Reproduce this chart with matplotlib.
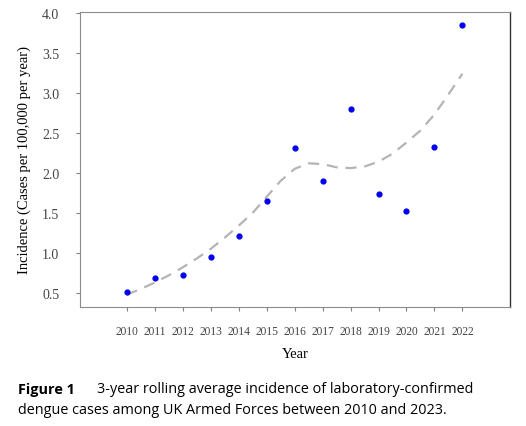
import matplotlib
matplotlib.use("Agg")
import matplotlib.pyplot as plt

# yearly incidence (cases per 100,000 per year)
years = [2010, 2011, 2012, 2013, 2014, 2015, 2016, 2017, 2018, 2019, 2020, 2021, 2022]
incidence = [0.51, 0.69, 0.72, 0.95, 1.21, 1.65, 2.31, 1.90, 2.80, 1.74, 1.52, 2.32, 3.85]

# smoothed trend, read every half year
trend_x = [2010, 2010.5, 2011, 2011.5, 2012, 2012.5, 2013, 2013.5, 2014, 2014.5, 2015,
           2015.5, 2016, 2016.5, 2017, 2017.5, 2018, 2018.5, 2019, 2019.5, 2020,
           2020.5, 2021, 2021.5, 2022]
trend_y = [0.48, 0.55, 0.63, 0.72, 0.82, 0.93, 1.05, 1.19, 1.34, 1.50, 1.70,
           1.90, 2.05, 2.12, 2.11, 2.07, 2.06, 2.08, 2.14, 2.24, 2.38,
           2.53, 2.73, 2.98, 3.24]

yticks = [0.5, 1.0, 1.5, 2.0, 2.5, 3.0, 3.5, 4.0]

serif = "Liberation Serif"
sans = "Open Sans"

fig = plt.figure(figsize=(5.26, 4.27), dpi=100)
ax = fig.add_axes([80/526, 1-308/427, 430/526, 295/427])

ax.plot(trend_x, trend_y, color="#b4b4b4", lw=1.6, dashes=(5, 3.5), zorder=1)
ax.scatter(years, incidence, s=12, color="#0000ee", zorder=2)

ax.set_xlim(2008.33, 2023.7)
ax.set_ylim(0.325, 4.01)
ax.set_xticks(years)
ax.set_xticklabels([str(y) for y in years], fontfamily=serif, fontsize=8.3, color="#444444")
ax.set_yticks(yticks)
ax.set_yticklabels(["%.1f" % v for v in yticks], fontfamily=serif, fontsize=10, color="#444444")
ax.tick_params(axis="x", direction="out", length=3, color="#808080", pad=10)
ax.tick_params(axis="y", direction="out", length=3, color="#808080", pad=12)

for side in ["left", "bottom", "top"]:
    ax.spines[side].set_color("#8c8c8c")
ax.spines["right"].set_color("#333333")
ax.spines["right"].set_linewidth(1.0)

ax.set_ylabel("Incidence (Cases per 100,000 per year)", fontfamily=serif, fontsize=10.5, labelpad=8)
fig.text(295/526, 1-354/427, "Year", fontfamily=serif, fontsize=10.5, ha="center", va="center")

fig.text(18/526, 1-390/427, "Figure 1", fontfamily=sans, fontsize=10.4, fontweight="bold",
         ha="left", va="center")
fig.text(97/526, 1-390/427, "3-year rolling average incidence of laboratory-confirmed",
         fontfamily=sans, fontsize=10.4, ha="left", va="center")
fig.text(18/526, 1-411/427, "dengue cases among UK Armed Forces between 2010 and 2023.",
         fontfamily=sans, fontsize=10.4, ha="left", va="center")

fig.savefig("out.png", dpi=100)
